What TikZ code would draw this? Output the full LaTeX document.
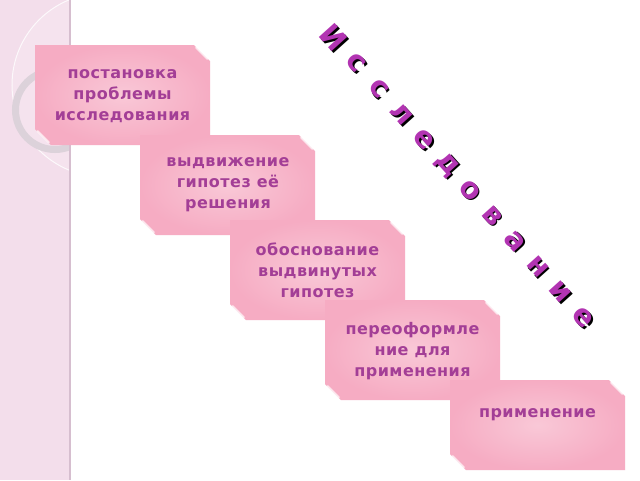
\documentclass[tikz,border=0pt]{standalone}
\usepackage{fontspec}
\setmainfont{DejaVu Sans}
\newfontfamily\boxfont[LetterSpace=3]{DejaVu Sans Bold}
\newfontfamily\titlefont{DejaVu Sans Bold}
\usetikzlibrary{shadings}
\definecolor{txt}{RGB}{163,62,150}
\definecolor{ttl}{RGB}{178,52,178}
\definecolor{pinkin}{RGB}{249,200,215}
\definecolor{pinkout}{RGB}{246,172,195}
\definecolor{stripc}{RGB}{243,222,235}
\definecolor{ringc}{RGB}{220,210,218}
\definecolor{stripline}{RGB}{214,190,207}
\newcommand\pinkbox[4]{%
  \path[inner color=pinkin, outer color=pinkout]
    (#1,#2) -- (#3-16,#2) -- (#3,#2+16) -- (#3,#4) -- (#1+16,#4) -- (#1,#4-16) -- cycle;
  \draw[bevel] (#3-14,#2+2.5) -- (#3-2.5,#2+14);
  \draw[bevel] (#1+2.5,#4-14) -- (#1+14,#4-2.5);
}
\newcommand\shadowed[1]{\makebox[0pt][l]{\kern2.4pt\color{black}#1}#1}
\tikzset{
  bevel/.style={white, opacity=0.7, line width=2pt, line cap=round},
  boxtext/.style={font=\boxfont\fontsize{16}{21}\selectfont, text=txt, align=center, inner sep=0pt},
  ttlletter/.style={font=\titlefont\fontsize{29}{29}\selectfont, text=ttl, rotate=-48, inner sep=0pt}
}
\begin{document}
\begin{tikzpicture}[x=1pt,y=-1pt]
\useasboundingbox (0,0) rectangle (640,480);
\fill[white] (0,0) rectangle (640,480);
% left strip
\begin{scope}
  \clip (0,0) rectangle (70,480);
  \fill[stripc] (0,0) rectangle (70,480);
  \fill[white, opacity=0.18] (104,85) circle (92);
  \draw[white, opacity=0.8, line width=1pt] (104,85) circle (92);
  \draw[ringc, line width=7pt] (55,110) circle (39.5);
\end{scope}
\draw[stripline, line width=1.5pt] (70,0) -- (70,480);
% boxes
\pinkbox{35}{45}{210}{145}
\pinkbox{140}{135}{315}{235}
\pinkbox{230}{220}{405}{320}
\pinkbox{325}{300}{500}{400}
\pinkbox{450}{380}{625}{470}
\node[boxtext] (b1) at (122.5,96) {постановка\\проблемы\\исследования};
\node[boxtext] (b2) at (228,185) {выдвижение\\гипотез её\\решения};
\node[boxtext] (b3) at (317.5,270) {обоснование\\выдвинутых\\гипотез};
\node[boxtext] (b4) at (412.5,351) {переоформле\\ние для\\применения};
\node[boxtext] (b5) at (537.5,415) {применение};
% title
\foreach \i/\ch in {0/И,1/с,2/с,3/л,4/е,5/д,6/о,7/в,8/а,9/н,10/и,11/е}{
  \node[ttlletter] (t\i) at (333.5+22.7*\i,37.5+25.45*\i) {\shadowed{\ch}};
}
\end{tikzpicture}
\end{document}
